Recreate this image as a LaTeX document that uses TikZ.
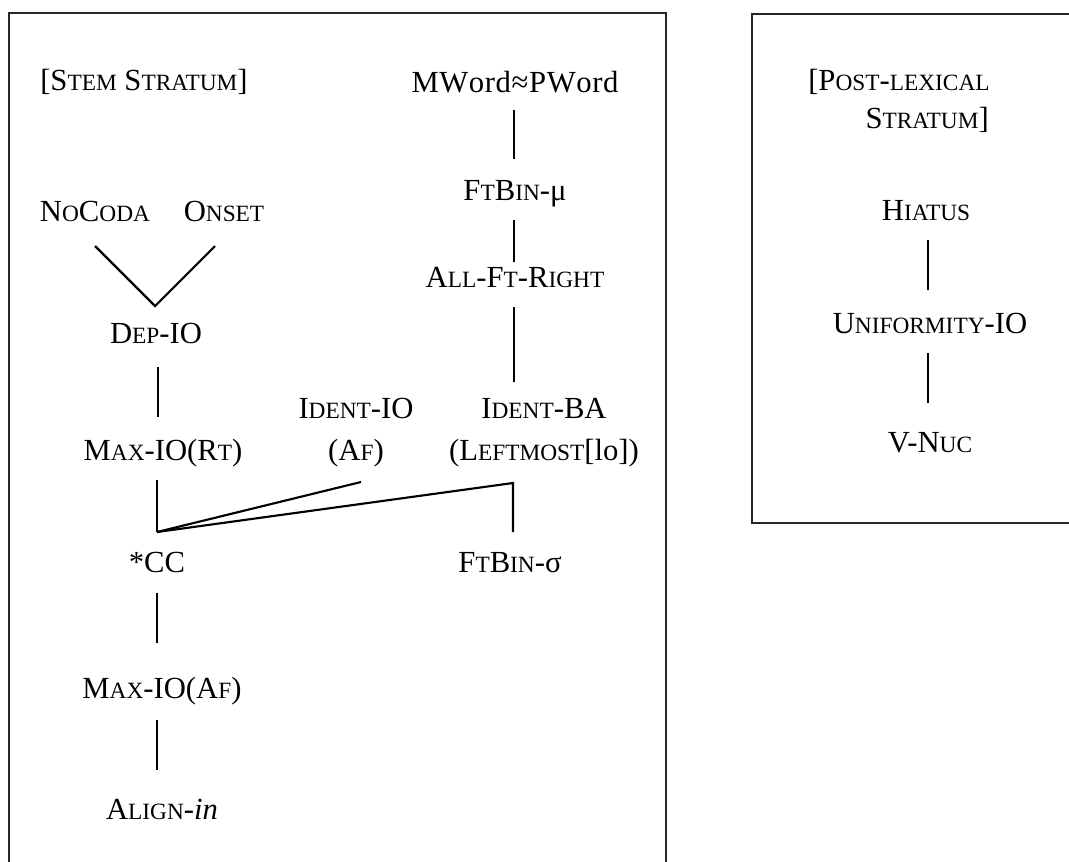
\documentclass[tikz,border=0pt]{standalone}
\usepackage{fontspec}
\setmainfont{Liberation Serif}
\usetikzlibrary{calc}
% faked small capitals: lower-case letters set as smaller capitals
\newcommand\sm[1]{{\fontsize{17.5}{18}\selectfont #1}}
\begin{document}
\begin{tikzpicture}[x=0.75pt,y=-0.75pt,
  con/.style={line width=1.6pt},
  frame/.style={line width=1.4pt, draw=black!85},
  lab/.style={font=\fontsize{23}{28}\selectfont, inner sep=0pt, anchor=base}]
\useasboundingbox (0,0) rectangle (1069,861);
\clip (0,0) rectangle (1069,861);
\fill[white] (0,0) rectangle (1069,861);

% stratum frames
\draw[frame] (9,13) rectangle (666,900);
\draw[frame] (752,14) rectangle (1100,523);

% stem stratum
\node[lab, anchor=base west] (stem) at (40,90) {[S\sm{TEM} S\sm{TRATUM}]};
\node[lab] (mword) at (515,92) {\addfontfeatures{Kerning=Off,LetterSpace=2}MWord≈PWord};
\node[lab] (ftbinmu) at (515,200) {F\sm{T}B\sm{IN}-μ};
\node[lab] (allft) at (515,287) {A\sm{LL}-F\sm{T}-R\sm{IGHT}};
\node[lab] (nocoda) at (95,221) {N\sm{O}C\sm{ODA}};
\node[lab] (onset) at (224,221) {O\sm{NSET}};
\node[lab] (dep) at (156,343) {D\sm{EP}-IO};
\node[lab] (maxrt) at (163,460) {M\sm{AX}-IO(R\sm{T})};
\node[lab] (identio) at (356,418) {I\sm{DENT}-IO};
\node[lab] (identioaf) at (356,460) {(A\sm{F})};
\node[lab] (identba) at (544,418) {I\sm{DENT}-BA};
\node[lab] (leftmost) at (544,460) {(L\sm{EFTMOST}[lo])};
\node[lab] (cc) at (157,572) {*CC};
\node[lab] (ftbinsig) at (510,572) {F\sm{T}B\sm{IN}-σ};
\node[lab] (maxaf) at (162,698) {M\sm{AX}-IO(A\sm{F})};
\node[lab] (align) at (162,819) {A\sm{LIGN}-\textit{in}};

% post-lexical stratum
\node[lab, anchor=base west] (post) at (808,90) {[P\sm{OST}-\sm{LEXICAL}};
\node[lab, anchor=base east] (poststr) at (989,128) {S\sm{TRATUM}]};
\node[lab] (hiatus) at (926,220) {H\sm{IATUS}};
\node[lab] (unif) at (930,333) {U\sm{NIFORMITY}-IO};
\node[lab] (vnuc) at (930,452) {V-N\sm{UC}};

% rankings, stem stratum
\draw[con] ($(mword.base)+(-1,18)$) -- ($(mword.base |- ftbinmu.base)+(-1,-41)$);
\draw[con] ($(ftbinmu.base)+(-1,20)$) -- ($(ftbinmu.base |- allft.base)+(-1,-25)$);
\draw[con] ($(allft.base)+(-1,20)$) -- ($(allft.base |- identba.base)+(-1,-36)$);
\draw[con] ($(nocoda.base)+(0,25)$) -- ($(dep.base)+(-1,-37)$)
           -- ($(onset.base)+(-9,25)$);
\draw[con] ($(maxrt.base |- dep.base)+(-5,24)$) -- ($(maxrt.base)+(-5,-43)$);
\coordinate (junc) at ($(maxrt.base)+(-6,72)$);
\draw[con] ($(maxrt.base)+(-6,20)$) -- (junc);
\draw[con] ($(identioaf.base)+(5,22)$) -- (junc);
\draw[con] (junc) -- ($(leftmost.base)+(-31,23)$)
           -- ($(leftmost.base)+(-31,72)$);
\draw[con] ($(cc.base)+(0,21)$) -- ($(cc.base |- maxaf.base)+(0,-55)$);
\draw[con] ($(cc.base |- maxaf.base)+(0,22)$) -- ($(cc.base |- align.base)+(0,-49)$);

% rankings, post-lexical stratum
\draw[con] ($(unif.base |- hiatus.base)+(-2,20)$) -- ($(unif.base)+(-2,-43)$);
\draw[con] ($(unif.base)+(-2,20)$) -- ($(unif.base |- vnuc.base)+(-2,-49)$);
\end{tikzpicture}
\end{document}
